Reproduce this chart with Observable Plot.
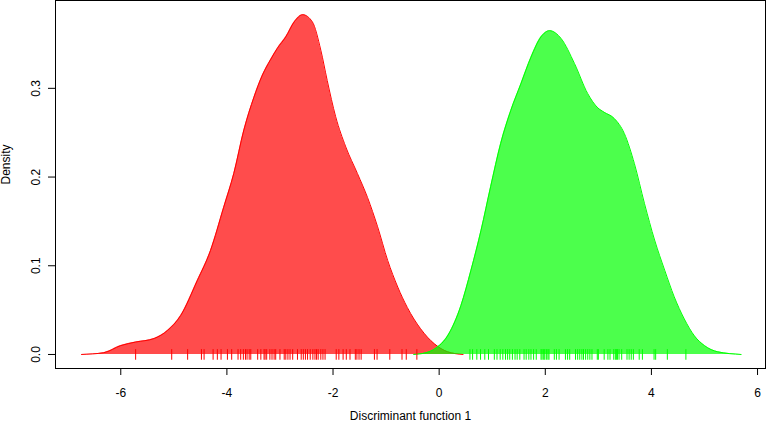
<!DOCTYPE html>
<html>
<head>
<meta charset="utf-8">
<script src="https://cdn.jsdelivr.net/npm/d3@7"></script>
<script src="https://cdn.jsdelivr.net/npm/@observablehq/plot@0.6"></script>
<style>
  html, body { margin: 0; padding: 0; background: #fff; }
  #chart svg { display: block; }
</style>
</head>
<body>
<div id="chart"></div>
<script>
// Density curve of group 1 (red)
const redX = [-6.74,-6.32,-6.0,-5.72,-5.37,-5.12,-4.87,-4.56,-4.31,-4.06,-3.87,-3.68,-3.49,-3.33,-3.18,-3.05,-2.89,-2.73,-2.57,-2.39,-2.23,-2.11,-1.95,-1.76,-1.54,-1.35,-1.16,-0.97,-0.78,-0.60,-0.35,-0.09,0.16,0.3,0.45];
const redY = [0,0.002,0.010,0.014,0.018,0.027,0.044,0.083,0.117,0.166,0.204,0.253,0.290,0.315,0.332,0.345,0.358,0.375,0.383,0.375,0.343,0.309,0.268,0.234,0.204,0.177,0.144,0.106,0.076,0.053,0.029,0.012,0.003,0.001,0];

// Density curve of group 2 (green)
const greenX = [-0.48,-0.25,-0.09,0.18,0.41,0.60,0.79,0.97,1.16,1.35,1.54,1.73,1.92,2.08,2.30,2.55,2.80,2.99,3.11,3.30,3.49,3.68,3.87,4.06,4.25,4.43,4.62,4.81,5.0,5.25,5.69];
const greenY = [0,0.002,0.006,0.023,0.055,0.095,0.140,0.189,0.238,0.275,0.305,0.335,0.358,0.365,0.356,0.328,0.294,0.278,0.273,0.266,0.249,0.215,0.170,0.129,0.095,0.065,0.040,0.021,0.010,0.003,0];

// Rug (individual scores)
const redRug = [-5.72,-5.04,-4.74,-4.48,-4.43,-4.26,-4.18,-4.11,-3.99,-3.91,-3.79,-3.74,-3.69,-3.65,-3.62,-3.58,-3.55,-3.42,-3.36,-3.30,-3.28,-3.25,-3.19,-3.15,-3.11,-3.08,-3.00,-2.92,-2.89,-2.85,-2.81,-2.76,-2.67,-2.60,-2.56,-2.52,-2.48,-2.43,-2.38,-2.34,-2.31,-2.28,-2.23,-2.19,-2.15,-1.94,-1.89,-1.81,-1.75,-1.68,-1.58,-1.55,-1.51,-1.47,-1.22,-1.17,-0.93,-0.70,-0.62,-0.42];
const greenRug = [0.58,0.63,0.71,0.78,0.86,0.93,1.04,1.09,1.15,1.20,1.25,1.29,1.33,1.38,1.43,1.47,1.52,1.60,1.64,1.69,1.73,1.78,1.83,1.92,1.94,1.97,1.99,2.02,2.05,2.07,2.17,2.21,2.26,2.38,2.42,2.46,2.57,2.61,2.65,2.69,2.72,2.76,2.80,2.84,2.88,2.98,3.00,3.11,3.18,3.22,3.29,3.32,3.34,3.36,3.39,3.44,3.54,3.58,3.62,3.66,3.77,3.83,4.05,4.08,4.30,4.65];

// Axis ticks and labels
const xTicks = [-6, -4, -2, 0, 2, 4, 6];
const yTicks = [0, 0.1, 0.2, 0.3];
const xLabel = "Discriminant function 1";
const yLabel = "Density";

const red = redX.map((x, i) => ({x, y: redY[i]}));
const green = greenX.map((x, i) => ({x, y: greenY[i]}));

const chart = Plot.plot({
  width: 767,
  height: 423,
  marginLeft: 55,
  marginRight: 2,
  marginTop: 0,
  marginBottom: 55,
  style: {fontFamily: "'Liberation Sans', Arial, Helvetica, sans-serif", fontSize: "12px", background: "#fff", color: "#000"},
  x: {domain: [-7.23, 6.15]},
  y: {domain: [-0.0158, 0.399]},
  marks: [
    Plot.areaY(red, {x: "x", y: "y", fill: "red", fillOpacity: 0.7, curve: "monotone-x"}),
    Plot.lineY(red, {x: "x", y: "y", stroke: "red", strokeWidth: 1, curve: "monotone-x"}),
    Plot.areaY(green, {x: "x", y: "y", fill: "#00ff00", fillOpacity: 0.7, curve: "monotone-x"}),
    Plot.lineY(green, {x: "x", y: "y", stroke: "#00ff00", strokeWidth: 1, curve: "monotone-x"}),
    Plot.ruleX(redRug, {x: d => d, y1: -0.0065, y2: 0.0055, stroke: "red", strokeWidth: 1}),
    Plot.ruleX(greenRug, {x: d => d, y1: -0.0065, y2: 0.0055, stroke: "#00ff00", strokeWidth: 1}),
    Plot.frame({stroke: "#000", strokeWidth: 1}),
    Plot.axisX({ticks: xTicks, tickSize: 7, tickPadding: 13, tickFormat: d => String(d), label: null}),
    Plot.axisY({ticks: yTicks, tickSize: 7, tickPadding: 9, tickRotate: -90, tickFormat: d3.format(".1f"), label: null}),
    Plot.text([xLabel], {text: d => d, frameAnchor: "bottom", dy: 51, fontSize: 12}),
    Plot.text([yLabel], {text: d => d, frameAnchor: "left", dx: -49, rotate: -90, fontSize: 12})
  ]
});
document.getElementById("chart").appendChild(chart);
</script>
</body>
</html>
